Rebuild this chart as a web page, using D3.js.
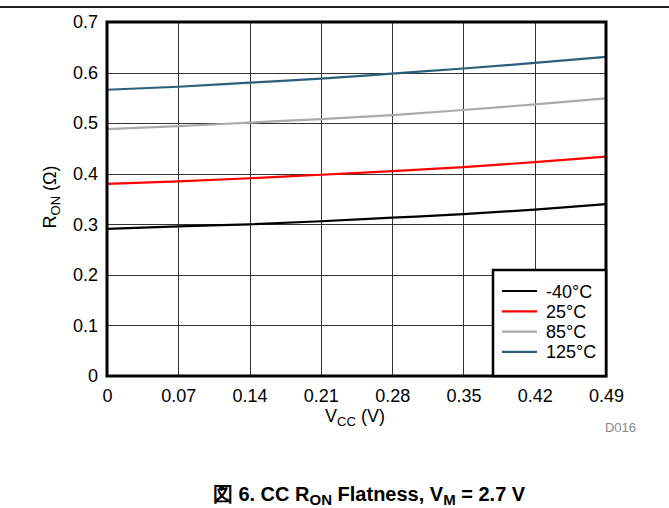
<!DOCTYPE html>
<html><head><meta charset="utf-8">
<script src="https://cdn.jsdelivr.net/npm/d3@7"></script>
<style>body{margin:0;background:#fff}svg{display:block;font-family:"Liberation Sans",Arial,sans-serif}</style>
</head><body><svg id="c" width="669" height="508"></svg>
<script>
const xTicks = [0, 0.07, 0.14, 0.21, 0.28, 0.35, 0.42, 0.49];
const yTicks = [0, 0.1, 0.2, 0.3, 0.4, 0.5, 0.6, 0.7];
const vcc = [0, 0.07, 0.14, 0.21, 0.28, 0.35, 0.42, 0.49];
const seriesNames = ["-40°C", "25°C", "85°C", "125°C"];
const seriesColors = ["#000000", "#ff0000", "#aaaaaa", "#2c5f7b"];
const ronM40 = [0.291, 0.296, 0.300, 0.306, 0.313, 0.320, 0.329, 0.340];
const ron25 = [0.380, 0.385, 0.391, 0.398, 0.405, 0.413, 0.423, 0.434];
const ron85 = [0.488, 0.494, 0.501, 0.508, 0.516, 0.526, 0.537, 0.549];
const ron125 = [0.566, 0.572, 0.580, 0.588, 0.598, 0.608, 0.619, 0.631];
const series = [ronM40, ron25, ron85, ron125];

const FONT = "Liberation Sans, Arial, sans-serif";
const svg = d3.select("#c");
const L = 107, R = 606, T = 22, B = 376;
const x = d3.scaleLinear().domain([0, 0.49]).range([L, R]);
const y = d3.scaleLinear().domain([0, 0.7]).range([B, T]);

// top rule
svg.append("line").attr("x1", 0).attr("x2", 669).attr("y1", 7).attr("y2", 7)
  .attr("stroke", "#222").attr("stroke-width", 2);

// grid
svg.append("g").selectAll("line").data(xTicks.slice(1, -1)).join("line")
  .attr("x1", d => Math.round(x(d)) + 0.5).attr("x2", d => Math.round(x(d)) + 0.5)
  .attr("y1", T).attr("y2", B).attr("stroke", "#333").attr("stroke-width", 1);
svg.append("g").selectAll("line").data(yTicks.slice(1, -1)).join("line")
  .attr("y1", d => Math.round(y(d)) + 0.5).attr("y2", d => Math.round(y(d)) + 0.5)
  .attr("x1", L).attr("x2", R).attr("stroke", "#333").attr("stroke-width", 1);

// axes (labels only)
const xAxis = svg.append("g").attr("transform", `translate(0,${B})`)
  .call(d3.axisBottom(x).tickValues(xTicks).tickFormat(d => d === 0 ? "0" : d3.format(".2f")(d)).tickSize(0).tickPadding(13));
const yAxis = svg.append("g").attr("transform", `translate(${L},0)`)
  .call(d3.axisLeft(y).tickValues(yTicks).tickFormat(d => d === 0 ? "0" : d3.format(".1f")(d)).tickSize(0).tickPadding(9));
[xAxis, yAxis].forEach(a => {
  a.select(".domain").remove();
  a.attr("font-size", 18).attr("font-family", FONT);
  a.selectAll("text").attr("fill", "#000");
});

// lines
const line = d3.line().x((d, i) => x(vcc[i])).y(d => y(d)).curve(d3.curveMonotoneX);
series.forEach((s, i) => {
  svg.append("path").datum(s).attr("d", line).attr("fill", "none")
    .attr("stroke", seriesColors[i]).attr("stroke-width", 2.2);
});

// plot border
svg.append("rect").attr("x", L).attr("y", T).attr("width", R - L).attr("height", B - T)
  .attr("fill", "none").attr("stroke", "#000").attr("stroke-width", 3);

// legend
const lg = svg.append("g");
lg.append("rect").attr("x", 493).attr("y", 270).attr("width", R - 493).attr("height", B - 270)
  .attr("fill", "#fff").attr("stroke", "#000").attr("stroke-width", 2.5);
seriesNames.forEach((n, i) => {
  const yy = 291 + i * 20.3;
  lg.append("line").attr("x1", 502).attr("x2", 537).attr("y1", yy).attr("y2", yy)
    .attr("stroke", seriesColors[i]).attr("stroke-width", 2.2);
  lg.append("text").attr("x", 546).attr("y", yy + 6.5).attr("font-size", 18).text(n);
});

// axis titles
const yt = svg.append("text").attr("transform", "translate(56,197) rotate(-90)")
  .attr("text-anchor", "middle").attr("font-size", 18);
yt.append("tspan").text("R");
yt.append("tspan").attr("font-size", 13).attr("dy", 4).text("ON");
yt.append("tspan").attr("dy", -4).text(" (Ω)");

const xt = svg.append("text").attr("x", 355).attr("y", 422).attr("text-anchor", "middle").attr("font-size", 18);
xt.append("tspan").text("V");
xt.append("tspan").attr("font-size", 13).attr("dy", 4).text("CC");
xt.append("tspan").attr("dy", -4).text(" (V)");

svg.append("text").attr("x", 636).attr("y", 432).attr("text-anchor", "end")
  .attr("font-size", 13).attr("fill", "#888").text("D016");

// caption
const cap = svg.append("text").attr("x", 369).attr("y", 501).attr("text-anchor", "middle")
  .attr("font-size", 20).attr("font-weight", "bold");
cap.append("tspan").text("図 6. CC R");
cap.append("tspan").attr("font-size", 15).attr("dy", 4).text("ON");
cap.append("tspan").attr("dy", -4).text(" Flatness, V");
cap.append("tspan").attr("font-size", 15).attr("dy", 4).text("M");
cap.append("tspan").attr("dy", -4).text(" = 2.7 V");
</script></body></html>
